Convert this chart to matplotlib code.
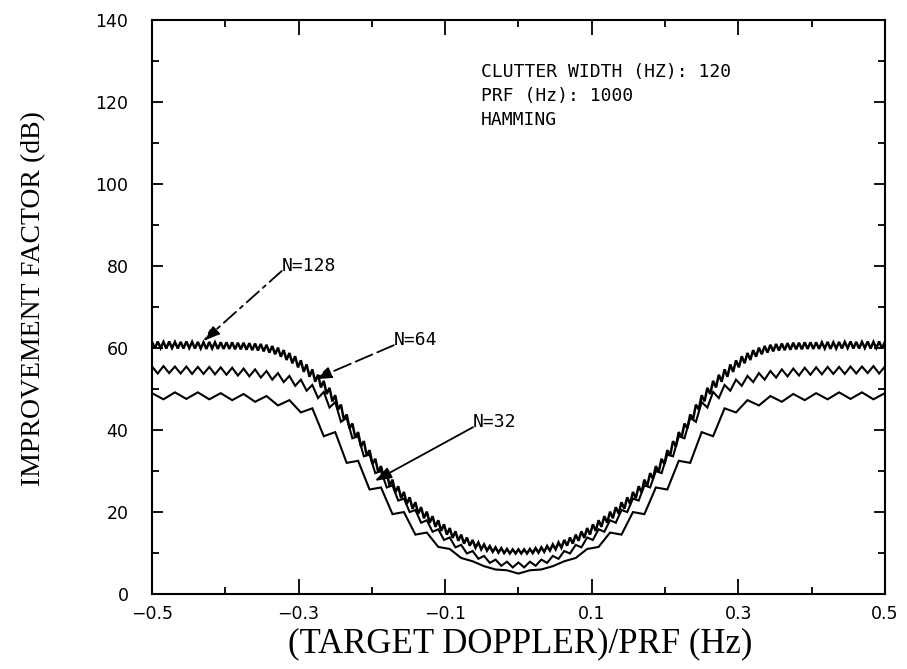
import numpy as np
import matplotlib.pyplot as plt

# Improvement factor (dB).
# For each filter-bank size: value at every filter centre (top) and at the
# cross-over between two neighbouring filters (dip).
top_128 = [61.5, 61.6, 61.5, 61.6, 61.5, 61.5, 61.6, 61.5, 61.5, 61.4, 61.5, 61.4, 61.4,
           61.4, 61.4, 61.3, 61.3, 61.2, 61.1, 61.0,
           60.8, 60.5, 60.1, 59.5, 58.8, 58.0, 57.0, 56.0, 54.8, 53.5, 52.0, 50.3,
           48.5, 46.2, 43.8, 41.6, 39.5, 37.3, 35.1, 33.0, 31.2, 29.5, 27.9, 26.3,
           24.9, 23.6, 22.4, 21.2, 20.1, 19.0, 18.0, 17.0, 16.1, 15.3, 14.5, 13.8,
           13.2, 12.6, 12.1, 11.7, 11.4, 11.2, 11.0, 10.9, 10.9,
           10.9, 11.0, 11.2, 11.4, 11.7, 12.1, 12.6, 13.2, 13.8, 14.5, 15.3, 16.1,
           17.0, 18.0, 19.0, 20.1, 21.2, 22.4, 23.6, 24.9, 26.3, 27.9, 29.5, 31.2,
           33.0, 35.1, 37.3, 39.5, 41.6, 43.8, 46.2, 48.5,
           50.3, 52.0, 53.5, 54.8, 56.0, 57.0, 58.0, 58.8, 59.5, 60.1, 60.5, 60.8,
           61.0, 61.1, 61.2, 61.3, 61.3, 61.4, 61.4,
           61.4, 61.4, 61.5, 61.4, 61.5, 61.5, 61.6, 61.5, 61.5, 61.6, 61.5, 61.6, 61.5]
dip_128 = [59.9, 60.0, 59.9, 60.0, 59.9, 59.9, 60.0, 59.9, 59.9, 59.8, 59.9, 59.8, 59.8,
           59.8, 59.7, 59.7, 59.6, 59.5, 59.4,
           59.2, 58.9, 58.5, 57.9, 57.1, 56.3, 55.3, 54.2, 53.0, 51.8, 50.4, 48.8, 47.0,
           45.0, 42.6, 40.4, 38.2, 36.0, 33.8, 31.7, 29.8, 28.1, 26.4, 24.8, 23.4,
           22.0, 20.8, 19.6, 18.5, 17.4, 16.4, 15.4, 14.5, 13.7, 13.0, 12.3, 11.8,
           11.3, 10.9, 10.6, 10.3, 10.1, 10.0, 9.9, 9.9,
           9.9, 9.9, 10.0, 10.1, 10.3, 10.6, 10.9, 11.3, 11.8, 12.3, 13.0, 13.7,
           14.5, 15.4, 16.4, 17.4, 18.5, 19.6, 20.8, 22.0, 23.4, 24.8, 26.4, 28.1,
           29.8, 31.7, 33.8, 36.0, 38.2, 40.4, 42.6, 45.0,
           47.0, 48.8, 50.4, 51.8, 53.0, 54.2, 55.3, 56.3, 57.1, 57.9, 58.5, 58.9, 59.2,
           59.4, 59.5, 59.6, 59.7, 59.7, 59.8,
           59.8, 59.8, 59.9, 59.8, 59.9, 59.9, 60.0, 59.9, 59.9, 60.0, 59.9, 60.0, 59.9]

top_64 = [55.5, 55.6, 55.5, 55.5, 55.4, 55.4, 55.3, 55.2, 55.0, 54.8, 54.4, 53.9,
          53.2, 52.3, 51.0, 49.3, 46.8, 43.0, 38.5, 34.0, 30.0, 26.5, 23.3, 20.5,
          18.0, 15.8, 13.8, 12.0, 10.5, 9.3, 8.4, 7.9, 7.7,
          7.9, 8.4, 9.3, 10.5, 12.0, 13.8, 15.8, 18.0, 20.5, 23.3, 26.5, 30.0,
          34.0, 38.5, 43.0, 46.8, 49.3, 51.0, 52.3, 53.2, 53.9, 54.4, 54.8, 55.0,
          55.2, 55.3, 55.4, 55.4, 55.5, 55.5, 55.6, 55.5]
dip_64 = [53.8, 53.9, 53.8, 53.7, 53.7, 53.6, 53.5, 53.3, 53.1, 52.8, 52.3, 51.7,
          50.8, 49.6, 47.8, 45.5, 42.0, 38.0, 33.6, 29.5, 26.0, 22.8, 20.0, 17.4,
          15.2, 13.2, 11.4, 9.9, 8.6, 7.6, 6.9, 6.5,
          6.5, 6.9, 7.6, 8.6, 9.9, 11.4, 13.2, 15.2, 17.4, 20.0, 22.8, 26.0,
          29.5, 33.6, 38.0, 42.0, 45.5, 47.8, 49.6, 50.8, 51.7, 52.3, 52.8, 53.1,
          53.3, 53.5, 53.6, 53.7, 53.7, 53.8, 53.9, 53.8]

top_32 = [49.0, 49.2, 49.2, 49.0, 48.8, 48.3, 47.3, 45.3, 39.5, 32.5, 26.0, 20.0,
          15.0, 11.0, 8.0, 6.0, 5.0,
          6.0, 8.0, 11.0, 15.0, 20.0, 26.0, 32.5, 39.5, 45.3, 47.3, 48.3, 48.8,
          49.0, 49.2, 49.2, 49.0]
dip_32 = [47.5, 47.6, 47.5, 47.3, 46.9, 46.0, 44.3, 38.5, 32.0, 25.5, 19.5, 14.5,
          11.5, 8.8, 6.8, 5.8,
          5.8, 6.8, 8.8, 11.5, 14.5, 19.5, 25.5, 32.0, 38.5, 44.3, 46.0, 46.9,
          47.3, 47.5, 47.6, 47.5]

curves = [(128, top_128, dip_128, 1.8), (64, top_64, dip_64, 1.5), (32, top_32, dip_32, 1.5)]

# Labels and arrows: (text, text position, arrow tip, line style)
labels = [('N=128', (-0.323, 78.8), (-0.430, 61.7), (0, (9, 3, 2, 3))),
          ('N=64', (-0.170, 60.7), (-0.278, 52.4), (0, (10, 3))),
          ('N=32', (-0.062, 40.7), (-0.196, 27.6), '-')]

info_lines = ['CLUTTER WIDTH (HZ): 120', 'PRF (Hz): 1000', 'HAMMING']
info_y = [126.2, 120.3, 114.4]

x_ticks = [-0.5, -0.3, -0.1, 0.1, 0.3, 0.5]
x_tick_labels = ['\u22120.5', '\u22120.3', '\u22120.1', '0.1', '0.3', '0.5']
y_ticks = [0, 20, 40, 60, 80, 100, 120, 140]

fig = plt.figure(figsize=(9.07, 6.69), dpi=100)
ax = fig.add_axes([0.1676, 0.112, 0.808, 0.858])

for n, top, dip, lw in curves:
    assert len(top) == n + 1 and len(dip) == n
    y = np.empty(2 * n + 1)
    y[0::2] = top
    y[1::2] = dip
    x = np.linspace(-0.5, 0.5, 2 * n + 1)
    ax.plot(x, y, color='black', lw=lw, solid_joinstyle='miter')

mono = 'DejaVu Sans Mono'
for txt, pos, tip, ls in labels:
    ax.text(pos[0], pos[1], txt, family=mono, fontsize=13, ha='left', va='baseline')
    ax.annotate('', xy=tip, xytext=pos,
                arrowprops=dict(arrowstyle='-|>,head_length=1.0,head_width=0.35',
                                color='black', lw=1.3, linestyle=ls,
                                shrinkA=0, shrinkB=0))

for line, yy in zip(info_lines, info_y):
    ax.text(-0.051, yy, line, family=mono, fontsize=13, ha='left', va='baseline')

ax.set_xlim(-0.5, 0.5)
ax.set_ylim(0, 140)
ax.set_xticks(x_ticks)
ax.set_xticklabels(x_tick_labels)
ax.set_xticks([-0.4, -0.2, 0.0, 0.2, 0.4], minor=True)
ax.set_yticks(y_ticks)
ax.set_yticks(np.arange(10, 140, 20), minor=True)
ax.tick_params(which='both', direction='in', top=True, right=True, width=1.3,
               labelsize=12.5)
ax.tick_params(axis='x', which='major', length=11, pad=8)
ax.tick_params(axis='y', which='major', length=8, pad=17)
ax.tick_params(which='minor', length=5)
for lab in ax.get_xticklabels() + ax.get_yticklabels():
    lab.set_family('DejaVu Sans')
for sp in ax.spines.values():
    sp.set_linewidth(1.5)

fig.text(0.037, 0.553, 'IMPROVEMENT FACTOR (dB)', rotation=90, ha='center',
         va='center', family='Liberation Serif', fontsize=20)
fig.text(0.573, 0.037, '(TARGET DOPPLER)/PRF (Hz)', ha='center', va='center',
         family='Liberation Serif', fontsize=25)

fig.savefig('out.png', dpi=100)
